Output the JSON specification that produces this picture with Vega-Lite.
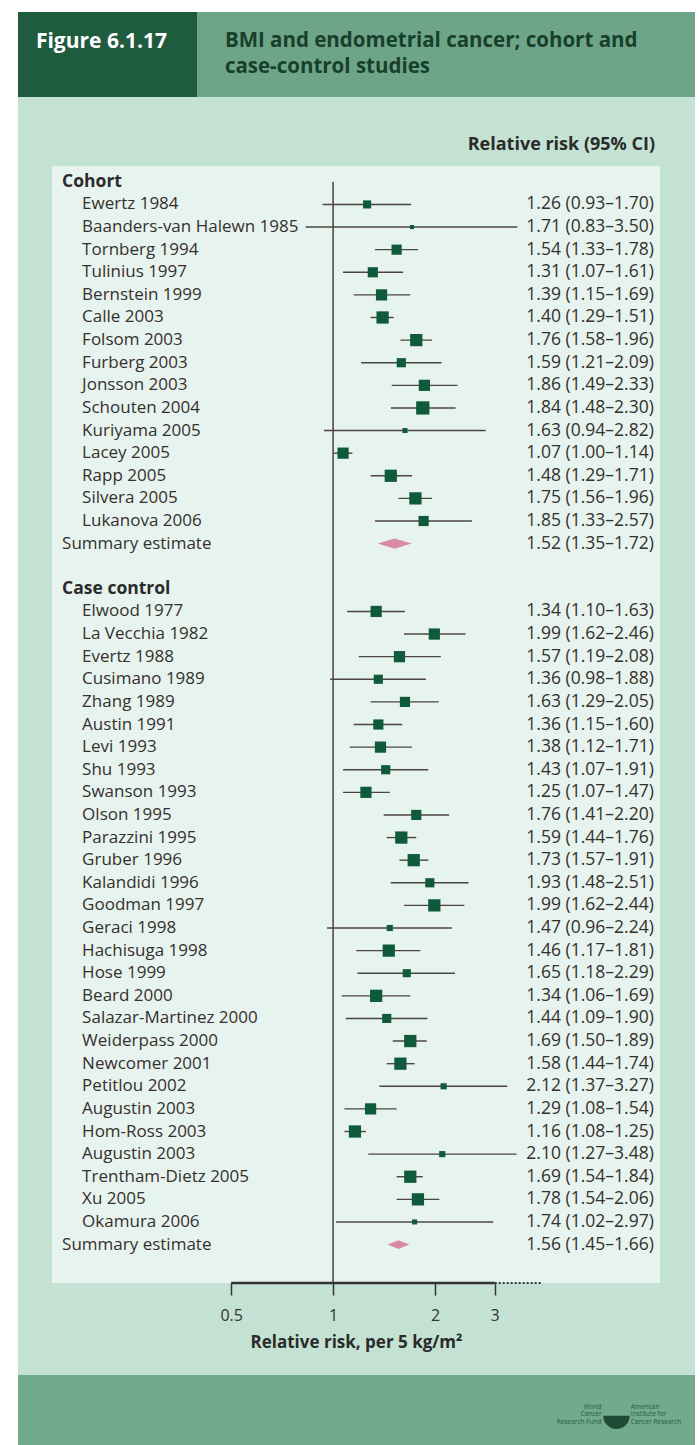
{
  "$schema": "https://vega.github.io/schema/vega-lite/v6.json",
  "background": "#c4e2d3",
  "padding": 0,
  "config": {"font": "Open Sans", "view": {"stroke": null}},
  "spacing": 0,
  "hconcat": [
    {
      "width": 18, "height": 1445,
      "view": {"fill": "#ffffff", "stroke": null},
      "data": {"values": []},
      "mark": {"type": "point"},
      "encoding": {}
    },
    {
      "spacing": 25,
      "vconcat": [
        {
          "spacing": 39,
          "vconcat": [
            {
              "spacing": 0,
              "vconcat": [
                {
                  "width": 677, "height": 12,
                  "view": {"fill": "#ffffff", "stroke": null},
                  "data": {"values": []},
                  "mark": {"type": "point"},
                  "encoding": {}
                },
                {
                  "spacing": 0,
                  "hconcat": [
                    {
                      "width": 179, "height": 85,
                      "view": {"fill": "#1f5b3e", "stroke": null},
                      "data": {"values": [{"t": "Figure 6.1.17"}]},
                      "mark": {"type": "text", "align": "left", "baseline": "middle", "fontSize": 21, "fontWeight": "bold", "color": "#ffffff"},
                      "encoding": {
                        "x": {"datum": 0.1, "type": "quantitative", "scale": {"domain": [0, 1]}, "axis": null},
                        "y": {"datum": 0.35, "type": "quantitative", "scale": {"domain": [0, 1], "reverse": true}, "axis": null},
                        "text": {"field": "t"}
                      }
                    },
                    {
                      "width": 498, "height": 85,
                      "view": {"fill": "#6ea588", "stroke": null},
                      "data": {"values": [{"t": "BMI and endometrial cancer; cohort and\ncase-control studies"}]},
                      "mark": {"type": "text", "align": "left", "baseline": "middle", "fontSize": 20.5, "fontWeight": "bold", "color": "#173f2c", "lineBreak": "\n", "lineHeight": 26},
                      "encoding": {
                        "x": {"datum": 0.056, "type": "quantitative", "scale": {"domain": [0, 1]}, "axis": null},
                        "y": {"datum": 0.345, "type": "quantitative", "scale": {"domain": [0, 1], "reverse": true}, "axis": null},
                        "text": {"field": "t"}
                      }
                    }
                  ]
                }
              ]
            },
            {
              "spacing": 0,
              "hconcat": [
                {
                  "width": 34, "height": 1117,
                  "data": {"values": []},
                  "mark": {"type": "point"},
                  "encoding": {}
                },
                {
                  "width": 608,
                  "height": 1117,
                  "view": {"fill": "#e7f3ef", "stroke": null},
                  "title": {"text": "Relative risk (95% CI)", "anchor": "end", "frame": "group", "fontSize": 18, "fontWeight": "bold", "color": "#2b2b2b", "offset": 12, "dx": -5},
                  "data": {"values": [
                    {"id": "r00", "label": "Cohort", "kind": "header"},
                    {"id": "r01", "label": "Ewertz 1984", "kind": "study", "rr": 1.26, "lo": 0.93, "hi": 1.70, "weight": 44, "ci": "1.26 (0.93–1.70)"},
                    {"id": "r02", "label": "Baanders-van Halewn 1985", "kind": "study", "rr": 1.71, "lo": 0.83, "hi": 3.50, "weight": 11, "ci": "1.71 (0.83–3.50)"},
                    {"id": "r03", "label": "Tornberg 1994", "kind": "study", "rr": 1.54, "lo": 1.33, "hi": 1.78, "weight": 69, "ci": "1.54 (1.33–1.78)"},
                    {"id": "r04", "label": "Tulinius 1997", "kind": "study", "rr": 1.31, "lo": 1.07, "hi": 1.61, "weight": 69, "ci": "1.31 (1.07–1.61)"},
                    {"id": "r05", "label": "Bernstein 1999", "kind": "study", "rr": 1.39, "lo": 1.15, "hi": 1.69, "weight": 84, "ci": "1.39 (1.15–1.69)"},
                    {"id": "r06", "label": "Calle 2003", "kind": "study", "rr": 1.40, "lo": 1.29, "hi": 1.51, "weight": 100, "ci": "1.40 (1.29–1.51)"},
                    {"id": "r07", "label": "Folsom 2003", "kind": "study", "rr": 1.76, "lo": 1.58, "hi": 1.96, "weight": 100, "ci": "1.76 (1.58–1.96)"},
                    {"id": "r08", "label": "Furberg 2003", "kind": "study", "rr": 1.59, "lo": 1.21, "hi": 2.09, "weight": 56, "ci": "1.59 (1.21–2.09)"},
                    {"id": "r09", "label": "Jonsson 2003", "kind": "study", "rr": 1.86, "lo": 1.49, "hi": 2.33, "weight": 84, "ci": "1.86 (1.49–2.33)"},
                    {"id": "r10", "label": "Schouten 2004", "kind": "study", "rr": 1.84, "lo": 1.48, "hi": 2.30, "weight": 117, "ci": "1.84 (1.48–2.30)"},
                    {"id": "r11", "label": "Kuriyama 2005", "kind": "study", "rr": 1.63, "lo": 0.94, "hi": 2.82, "weight": 17, "ci": "1.63 (0.94–2.82)"},
                    {"id": "r12", "label": "Lacey 2005", "kind": "study", "rr": 1.07, "lo": 1.00, "hi": 1.14, "weight": 84, "ci": "1.07 (1.00–1.14)"},
                    {"id": "r13", "label": "Rapp 2005", "kind": "study", "rr": 1.48, "lo": 1.29, "hi": 1.71, "weight": 100, "ci": "1.48 (1.29–1.71)"},
                    {"id": "r14", "label": "Silvera 2005", "kind": "study", "rr": 1.75, "lo": 1.56, "hi": 1.96, "weight": 100, "ci": "1.75 (1.56–1.96)"},
                    {"id": "r15", "label": "Lukanova 2006", "kind": "study", "rr": 1.85, "lo": 1.33, "hi": 2.57, "weight": 69, "ci": "1.85 (1.33–2.57)"},
                    {"id": "r16", "label": "Summary estimate", "kind": "summary", "group": "cohort", "rr": 1.52, "lo": 1.35, "hi": 1.72, "ci": "1.52 (1.35–1.72)"},
                    {"id": "r18", "label": "Case control", "kind": "header"},
                    {"id": "r19", "label": "Elwood 1977", "kind": "study", "rr": 1.34, "lo": 1.10, "hi": 1.63, "weight": 84, "ci": "1.34 (1.10–1.63)"},
                    {"id": "r20", "label": "La Vecchia 1982", "kind": "study", "rr": 1.99, "lo": 1.62, "hi": 2.46, "weight": 84, "ci": "1.99 (1.62–2.46)"},
                    {"id": "r21", "label": "Evertz 1988", "kind": "study", "rr": 1.57, "lo": 1.19, "hi": 2.08, "weight": 84, "ci": "1.57 (1.19–2.08)"},
                    {"id": "r22", "label": "Cusimano 1989", "kind": "study", "rr": 1.36, "lo": 0.98, "hi": 1.88, "weight": 56, "ci": "1.36 (0.98–1.88)"},
                    {"id": "r23", "label": "Zhang 1989", "kind": "study", "rr": 1.63, "lo": 1.29, "hi": 2.05, "weight": 69, "ci": "1.63 (1.29–2.05)"},
                    {"id": "r24", "label": "Austin 1991", "kind": "study", "rr": 1.36, "lo": 1.15, "hi": 1.60, "weight": 69, "ci": "1.36 (1.15–1.60)"},
                    {"id": "r25", "label": "Levi 1993", "kind": "study", "rr": 1.38, "lo": 1.12, "hi": 1.71, "weight": 84, "ci": "1.38 (1.12–1.71)"},
                    {"id": "r26", "label": "Shu 1993", "kind": "study", "rr": 1.43, "lo": 1.07, "hi": 1.91, "weight": 56, "ci": "1.43 (1.07–1.91)"},
                    {"id": "r27", "label": "Swanson 1993", "kind": "study", "rr": 1.25, "lo": 1.07, "hi": 1.47, "weight": 84, "ci": "1.25 (1.07–1.47)"},
                    {"id": "r28", "label": "Olson 1995", "kind": "study", "rr": 1.76, "lo": 1.41, "hi": 2.20, "weight": 69, "ci": "1.76 (1.41–2.20)"},
                    {"id": "r29", "label": "Parazzini 1995", "kind": "study", "rr": 1.59, "lo": 1.44, "hi": 1.76, "weight": 100, "ci": "1.59 (1.44–1.76)"},
                    {"id": "r30", "label": "Gruber 1996", "kind": "study", "rr": 1.73, "lo": 1.57, "hi": 1.91, "weight": 100, "ci": "1.73 (1.57–1.91)"},
                    {"id": "r31", "label": "Kalandidi 1996", "kind": "study", "rr": 1.93, "lo": 1.48, "hi": 2.51, "weight": 56, "ci": "1.93 (1.48–2.51)"},
                    {"id": "r32", "label": "Goodman 1997", "kind": "study", "rr": 1.99, "lo": 1.62, "hi": 2.44, "weight": 100, "ci": "1.99 (1.62–2.44)"},
                    {"id": "r33", "label": "Geraci 1998", "kind": "study", "rr": 1.47, "lo": 0.96, "hi": 2.24, "weight": 25, "ci": "1.47 (0.96–2.24)"},
                    {"id": "r34", "label": "Hachisuga 1998", "kind": "study", "rr": 1.46, "lo": 1.17, "hi": 1.81, "weight": 100, "ci": "1.46 (1.17–1.81)"},
                    {"id": "r35", "label": "Hose 1999", "kind": "study", "rr": 1.65, "lo": 1.18, "hi": 2.29, "weight": 44, "ci": "1.65 (1.18–2.29)"},
                    {"id": "r36", "label": "Beard 2000", "kind": "study", "rr": 1.34, "lo": 1.06, "hi": 1.69, "weight": 100, "ci": "1.34 (1.06–1.69)"},
                    {"id": "r37", "label": "Salazar-Martinez 2000", "kind": "study", "rr": 1.44, "lo": 1.09, "hi": 1.90, "weight": 56, "ci": "1.44 (1.09–1.90)"},
                    {"id": "r38", "label": "Weiderpass 2000", "kind": "study", "rr": 1.69, "lo": 1.50, "hi": 1.89, "weight": 100, "ci": "1.69 (1.50–1.89)"},
                    {"id": "r39", "label": "Newcomer 2001", "kind": "study", "rr": 1.58, "lo": 1.44, "hi": 1.74, "weight": 100, "ci": "1.58 (1.44–1.74)"},
                    {"id": "r40", "label": "Petitlou 2002", "kind": "study", "rr": 2.12, "lo": 1.37, "hi": 3.27, "weight": 25, "ci": "2.12 (1.37–3.27)"},
                    {"id": "r41", "label": "Augustin 2003", "kind": "study", "rr": 1.29, "lo": 1.08, "hi": 1.54, "weight": 84, "ci": "1.29 (1.08–1.54)"},
                    {"id": "r42", "label": "Hom-Ross 2003", "kind": "study", "rr": 1.16, "lo": 1.08, "hi": 1.25, "weight": 100, "ci": "1.16 (1.08–1.25)"},
                    {"id": "r43", "label": "Augustin 2003", "kind": "study", "rr": 2.10, "lo": 1.27, "hi": 3.48, "weight": 25, "ci": "2.10 (1.27–3.48)"},
                    {"id": "r44", "label": "Trentham-Dietz 2005", "kind": "study", "rr": 1.69, "lo": 1.54, "hi": 1.84, "weight": 100, "ci": "1.69 (1.54–1.84)"},
                    {"id": "r45", "label": "Xu 2005", "kind": "study", "rr": 1.78, "lo": 1.54, "hi": 2.06, "weight": 100, "ci": "1.78 (1.54–2.06)"},
                    {"id": "r46", "label": "Okamura 2006", "kind": "study", "rr": 1.74, "lo": 1.02, "hi": 2.97, "weight": 17, "ci": "1.74 (1.02–2.97)"},
                    {"id": "r47", "label": "Summary estimate", "kind": "summary", "group": "case", "rr": 1.56, "lo": 1.45, "hi": 1.66, "ci": "1.56 (1.45–1.66)"}
                  ]},
                  "encoding": {
                    "y": {
                      "field": "id", "type": "ordinal",
                      "scale": {
                        "domain": ["r00","r01","r02","r03","r04","r05","r06","r07","r08","r09","r10","r11","r12","r13","r14","r15","r16","r17","r18","r19","r20","r21","r22","r23","r24","r25","r26","r27","r28","r29","r30","r31","r32","r33","r34","r35","r36","r37","r38","r39","r40","r41","r42","r43","r44","r45","r46","r47","r48"],
                        "paddingInner": 0, "paddingOuter": 0.2
                      },
                      "axis": null
                    }
                  },
                  "layer": [
                    {
                      "data": {"values": [{}]},
                      "mark": {"type": "rule", "color": "#4a3f36", "strokeWidth": 1.5},
                      "encoding": {
                        "x": {"datum": 1, "type": "quantitative", "scale": {"type": "log", "domain": [0.1479, 9.23], "nice": false}},
                        "y": {"datum": "r00", "type": "ordinal"},
                        "y2": {"value": "height"}
                      }
                    },
                    {
                      "transform": [{"filter": "datum.kind === 'study'"}],
                      "mark": {"type": "rule", "color": "#4d463e", "strokeWidth": 1.4},
                      "encoding": {
                        "x": {"field": "lo", "type": "quantitative", "scale": {"type": "log", "domain": [0.1479, 9.23], "nice": false},
                          "axis": {"values": [0.5, 1, 2, 3], "format": "~g", "domain": false, "grid": false, "tickSize": 12, "tickWidth": 1.5, "tickColor": "#333333", "labelFontSize": 16, "labelColor": "#333333", "labelPadding": 12, "labelFont": "Open Sans", "title": "Relative risk, per 5 kg/m²", "titleFontSize": 17, "titleFontWeight": "bold", "titleColor": "#2b2b2b", "titlePadding": 11}},
                        "x2": {"field": "hi"}
                      }
                    },
                    {
                      "transform": [{"filter": "datum.kind === 'study'"}],
                      "mark": {"type": "point", "shape": "square", "filled": true, "opacity": 1, "color": "#0f5a3b"},
                      "encoding": {
                        "x": {"field": "rr", "type": "quantitative"},
                        "size": {"field": "weight", "type": "quantitative", "scale": {"domain": [0, 100], "range": [0, 150]}, "legend": null}
                      }
                    },
                    {
                      "transform": [{"filter": "datum.kind === 'summary' && datum.group === 'cohort'"}],
                      "mark": {"type": "point", "shape": "M-1,0L0,-0.3L1,0L0,0.3Z", "filled": true, "opacity": 1, "color": "#d98aa6", "size": 1150},
                      "encoding": {"x": {"field": "rr", "type": "quantitative"}}
                    },
                    {
                      "transform": [{"filter": "datum.kind === 'summary' && datum.group === 'case'"}],
                      "mark": {"type": "point", "shape": "M-1,0L0,-0.4L1,0L0,0.4Z", "filled": true, "opacity": 1, "color": "#d98aa6", "size": 480},
                      "encoding": {"x": {"field": "rr", "type": "quantitative"}}
                    },
                    {
                      "transform": [{"filter": "datum.kind === 'header'"}],
                      "mark": {"type": "text", "align": "left", "baseline": "middle", "fontSize": 17.5, "fontWeight": "bold", "color": "#2b2b2b"},
                      "encoding": {
                        "x": {"datum": 0.1584, "type": "quantitative"},
                        "text": {"field": "label"}
                      }
                    },
                    {
                      "transform": [{"filter": "datum.kind === 'summary'"}],
                      "mark": {"type": "text", "align": "left", "baseline": "middle", "fontSize": 17, "color": "#35302b"},
                      "encoding": {
                        "x": {"datum": 0.1584, "type": "quantitative"},
                        "text": {"field": "label"}
                      }
                    },
                    {
                      "transform": [{"filter": "datum.kind === 'study'"}],
                      "mark": {"type": "text", "align": "left", "baseline": "middle", "fontSize": 17, "color": "#35302b"},
                      "encoding": {
                        "x": {"datum": 0.1815, "type": "quantitative"},
                        "text": {"field": "label"}
                      }
                    },
                    {
                      "transform": [{"filter": "datum.kind !== 'header'"}],
                      "mark": {"type": "text", "align": "left", "baseline": "middle", "fontSize": 17.5, "color": "#35302b"},
                      "encoding": {
                        "x": {"datum": 3.72, "type": "quantitative"},
                        "text": {"field": "ci"}
                      }
                    },
                    {
                      "data": {"values": [{}]},
                      "mark": {"type": "rule", "color": "#333333", "strokeWidth": 2.5},
                      "encoding": {
                        "x": {"datum": 0.5, "type": "quantitative"},
                        "x2": {"datum": 3},
                        "y": {"value": "height"}
                      }
                    },
                    {
                      "data": {"values": [{}]},
                      "mark": {"type": "rule", "color": "#333333", "strokeWidth": 2, "strokeDash": [2, 2]},
                      "encoding": {
                        "x": {"datum": 3, "type": "quantitative"},
                        "x2": {"datum": 4.1},
                        "y": {"value": "height"}
                      }
                    }
                  ]
                }
              ]
            }
          ]
        },
        {
          "width": 677, "height": 70,
          "view": {"fill": "#70ab8e", "stroke": null},
          "data": {"values": [
            {"t": "World\nCancer\nResearch Fund", "side": "left"},
            {"t": "American\nInstitute for\nCancer Research", "side": "right"}
          ]},
          "layer": [
            {
              "transform": [{"filter": "datum.side === 'left'"}],
              "mark": {"type": "text", "align": "right", "baseline": "middle", "fontSize": 6.5, "lineBreak": "\n", "lineHeight": 7.5, "color": "#2f5a45"},
              "encoding": {
                "x": {"datum": 0.862, "type": "quantitative", "scale": {"domain": [0, 1]}, "axis": null},
                "y": {"datum": 0.45, "type": "quantitative", "scale": {"domain": [0, 1], "reverse": true}, "axis": null},
                "text": {"field": "t"}
              }
            },
            {
              "transform": [{"filter": "datum.side === 'right'"}],
              "mark": {"type": "text", "align": "left", "baseline": "middle", "fontSize": 6.5, "lineBreak": "\n", "lineHeight": 7.5, "color": "#2f5a45"},
              "encoding": {
                "x": {"datum": 0.905, "type": "quantitative"},
                "y": {"datum": 0.45, "type": "quantitative"},
                "text": {"field": "t"}
              }
            },
            {
              "transform": [{"filter": "datum.side === 'left'"}],
              "mark": {"type": "point", "shape": "M-1,-0.2A1,1 0 0,0 1,-0.2Z", "filled": true, "opacity": 1, "color": "#1f4a35", "size": 700},
              "encoding": {
                "x": {"datum": 0.884, "type": "quantitative"},
                "y": {"datum": 0.62, "type": "quantitative"}
              }
            }
          ]
        }
      ]
    },
    {
      "width": 5, "height": 1445,
      "view": {"fill": "#ffffff", "stroke": null},
      "data": {"values": []},
      "mark": {"type": "point"},
      "encoding": {}
    }
  ]
}
